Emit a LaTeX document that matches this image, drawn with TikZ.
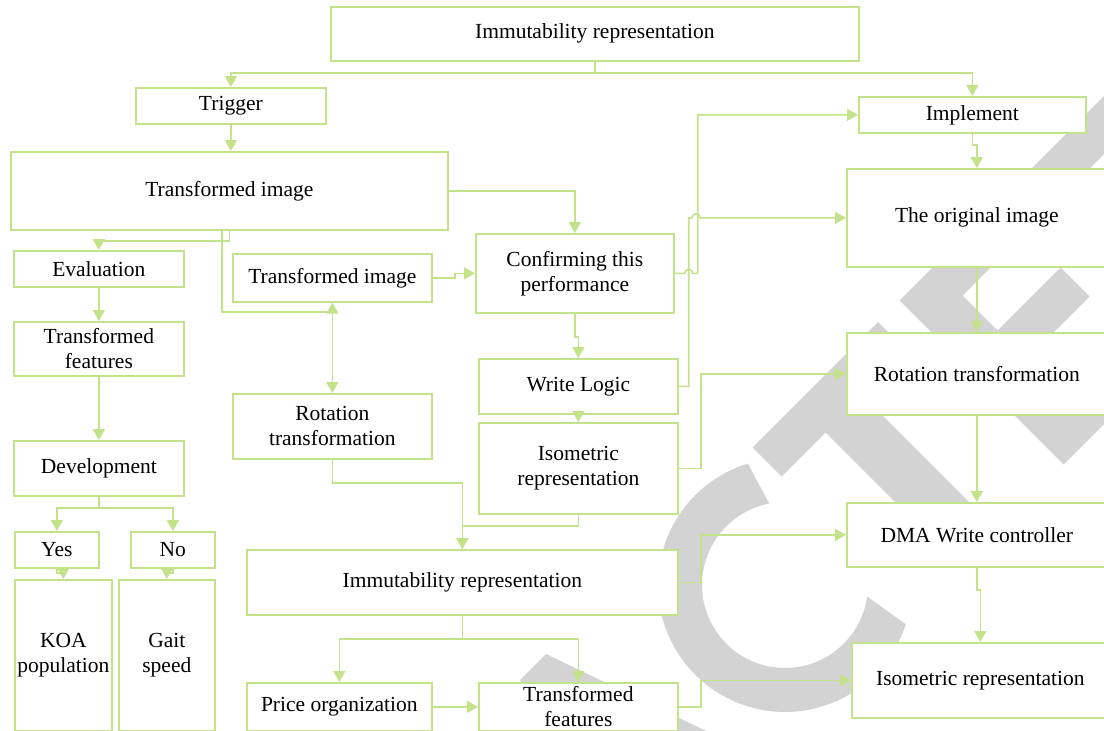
\documentclass[tikz,border=0pt]{standalone}
\usepackage{fontspec}
\setmainfont{Liberation Serif}
\usetikzlibrary{arrows.meta}
\definecolor{lgreen}{RGB}{196,226,138}
\definecolor{wmgray}{RGB}{211,211,211}
\tikzset{
  box/.style={draw=lgreen, line width=1.7pt, fill=white, inner sep=1pt, align=center,
    font=\fontsize{21.5}{25}\selectfont, anchor=north west},
  link/.style={draw=lgreen, line width=1.6pt},
  conn/.style={link, -{Triangle[length=11pt,width=12pt]}},
  dconn/.style={link, {Triangle[length=11pt,width=12pt]}-{Triangle[length=11pt,width=12pt]}},
}
\begin{document}
\begin{tikzpicture}[x=1pt,y=-1pt]
\useasboundingbox (0,0) rectangle (1104,731);
\clip (0,0) rectangle (1104,731);
\fill[white] (0,0) rectangle (1104,731);
% watermark
\fill[wmgray] plot[domain=107:342,samples=70] ({785+127*cos(\x)},{585-127*sin(\x)})
  -- plot[domain=352:101,samples=70] ({785+83*cos(\x)},{585-83*sin(\x)}) -- cycle;
\fill[wmgray] (752.5,447.5) -- (878,322) -- (907,351) -- (862.5,395.5) -- (997.5,530.5)
  -- (960.5,567.5) -- (825.5,432.5) -- (781.5,476.5) -- cycle;
\fill[wmgray] (899.5,300.5) -- (1175,25) -- (1204,54) -- (962.5,295.5) -- (997.5,330.5)
  -- (1060.5,267.5) -- (1089.5,296.5) -- (1026.5,359.5) -- (1068.5,401.5) -- (1185,285)
  -- (1214,314) -- (1063.5,464.5) -- cycle;
\fill[wmgray] (520,680) -- (546,654) -- (767.5,760.5) -- (626.5,901.5) -- cycle;

% boxes
\node[box, minimum width=528pt, minimum height=54pt] (imm0) at (330,6) {Immutability representation};
\node[box, minimum width=190pt, minimum height=36pt] (trig) at (135,87) {Trigger};
\node[box, minimum width=437pt, minimum height=78pt] (timg1) at (10,151) {Transformed image};
\node[box, minimum width=170pt, minimum height=36pt] (eval) at (13,250) {Evaluation};
\node[box, minimum width=170pt, minimum height=54pt] (tfeat1) at (13,321) {Transformed\\features};
\node[box, minimum width=170pt, minimum height=55pt] (dev) at (13,440) {Development};
\node[box, minimum width=84pt, minimum height=36pt] (yes) at (14,531) {Yes};
\node[box, minimum width=84pt, minimum height=36pt] (no) at (130,531) {No};
\node[box, minimum width=97pt, minimum height=151pt] (koa) at (14,579) {KOA\\population};
\node[box, minimum width=96pt, minimum height=151pt] (gait) at (118,579) {Gait\\speed};
\node[box, minimum width=199pt, minimum height=48pt] (timg2) at (232,253) {Transformed image};
\node[box, minimum width=199pt, minimum height=65pt] (rot1) at (232,393) {Rotation\\transformation};
\node[box, minimum width=198pt, minimum height=79pt] (conf) at (475,233) {Confirming this\\performance};
\node[box, minimum width=199pt, minimum height=55pt] (wl) at (478,358) {Write Logic};
\node[box, minimum width=199pt, minimum height=91pt] (iso1) at (478,422) {Isometric\\representation};
\node[box, minimum width=431pt, minimum height=65pt] (imm1) at (246,549) {Immutability representation};
\node[box, minimum width=185pt, minimum height=48pt] (price) at (246,682) {Price organization};
\node[box, minimum width=199pt, minimum height=48pt] (tfeat2) at (478,682) {Transformed\\features};
\node[box, minimum width=227pt, minimum height=36pt] (impl) at (858,96) {Implement};
\node[box, minimum width=260pt, minimum height=98pt] (orig) at (846,168) {The original image};
\node[box, minimum width=260pt, minimum height=82pt] (rot2) at (846,332) {Rotation transformation};
\node[box, minimum width=260pt, minimum height=64pt] (dma) at (846,502) {DMA Write controller};
\node[box, minimum width=257pt, minimum height=75pt] (iso2) at (851,642) {Isometric representation};
\coordinate (j1) at (331.5,312);

% connectors
\draw[conn] (imm0.south) -- ++(0,11) -| (trig.north);
\draw[conn] (imm0.south) -- ++(0,11) -| (impl.north);
\draw[conn] (trig.south) -- (trig.south |- timg1.north);
\draw[conn] (timg1.south) -- ++(0,10) -| (eval.north);
\draw[link] ([xshift=-7.5pt]timg1.south) |- (j1);
\draw[conn] (timg1.east) -| (conf.north);
\draw[dconn] (timg2.south) -- (rot1.north);
\draw[conn] (timg2.east) -- ++(22,0) |- (conf.west);
\draw[conn] (conf.south) -- ++(0,23) -| (wl.north);
\draw[conn] (wl.south) -- (iso1.north);
\draw[conn] (conf.east) -- ++(10,0) arc[start angle=180, end angle=0, radius=4pt] -- ++(5,0) |- (impl.west);
\draw[conn] (wl.east) -- ++(10,0) |- ([xshift=-154pt]orig.west) arc[start angle=180, end angle=0, radius=4pt] -- (orig.west);
\draw[conn] (iso1.east) -- ++(22,0) |- (rot2.west);
\draw[conn] (iso1.south) -- ++(0,11) -| (imm1.north);
\draw[conn] (rot1.south) -- ++(0,23) -| (imm1.north);
\draw[conn] (imm1.east) -- ++(22,0) |- (dma.west);
\draw[conn] (imm1.south) -- ++(0,23) -| (price.north);
\draw[conn] (imm1.south) -- ++(0,23) -| (tfeat2.north);
\draw[conn] (price.east) -- (tfeat2.west);
\draw[conn] (tfeat2.east) -- ++(22,0) |- (iso2.west);
\draw[conn] (impl.south) -- ++(0,11) -| (orig.north);
\draw[conn] (orig.south) -- (rot2.north);
\draw[conn] (rot2.south) -- (dma.north);
\draw[conn] (dma.south) -- ++(0,22) -| (iso2.north);
\draw[conn] (eval.south) -- (tfeat1.north);
\draw[conn] (tfeat1.south) -- (dev.north);
\draw[conn] (dev.south) -- ++(0,11) -| (yes.north);
\draw[conn] (dev.south) -- ++(0,11) -| (no.north);
\draw[conn] (yes.south) -- ++(0,4) -| (koa.north);
\draw[conn] (no.south) -- ++(0,4) -| (gait.north);
\end{tikzpicture}
\end{document}
